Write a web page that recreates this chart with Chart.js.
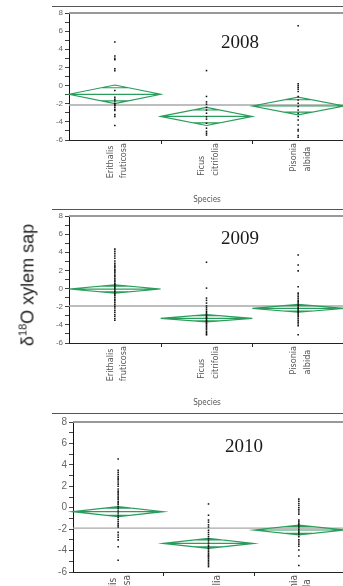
<!DOCTYPE html>
<html>
<head>
<meta charset="utf-8">
<script src="https://cdn.jsdelivr.net/npm/chart.js@4.4.1/dist/chart.umd.min.js"></script>
<style>
    html, body { margin: 0; padding: 0; background: #fff; overflow: hidden; width: 343px; height: 586px; }
    .panel { position: absolute; left: 0; width: 348px; }
    #ytitle {
        position: absolute; left: 28px; top: 285px;
        transform: translate(-50%, -50%) rotate(-90deg);
        font: 18px 'Liberation Sans', Arial, sans-serif; color: #222; white-space: nowrap;
    }
    #ytitle sup { font-size: 11px; vertical-align: 7px; line-height: 0; }
</style>
</head>
<body>
<div class="panel" style="top:0;height:205px;"><canvas id="p2008"></canvas></div>
<div class="panel" style="top:205px;height:205px;"><canvas id="p2009"></canvas></div>
<div class="panel" style="top:410px;height:176px;"><canvas id="p2010"></canvas></div>
<div id="ytitle">&delta;<sup>18</sup>O xylem sap</div>

<script>
// ===== delta18O xylem sap by species, 2008-2010 =====

var species = [['Erithalis', 'fruticosa'], ['Ficus', 'citrifolia'], ['Pisonia', 'albida']];
var xTitle = 'Species';
var yMin = -6, yMax = 8;

// -- 2008 --
var ery2008 = [4.8, 3.25, 3.0, 2.85, 1.85, 1.65, -0.55, -1.3, -1.5, -1.7, -1.95, -2.1, -2.2, -2.4, -2.6, -2.75, -3.2, -3.4, -4.4];
var fic2008 = [1.65, -1.2, -1.8, -2.05, -2.4, -2.7, -3.05, -3.45, -3.7, -4.15, -4.7, -5.05, -5.25, -5.45];
var pis2008 = [6.6, 0.2, 0.0, -0.2, -0.4, -0.65, -1.2, -1.6, -1.95, -2.3, -2.7, -3.05, -3.4, -3.8, -4.35, -4.85, -5.0, -5.5, -5.7];
var means2008 = [-0.96, -3.4, -2.25];
var ci2008 = [1.02, 1.0, 0.97];
var grand2008 = -2.14;

// -- 2009 --
var ery2009 = [4.35, 4.1, 3.85, 3.6, 3.35, 3.05, 2.8, 2.6, 2.45, 2.3, 2.1, 1.95, 1.8, 1.6, 1.45, 1.3, 1.1, 0.95, 0.8, 0.6, 0.45,
               0.3, 0.15, 0.0, -0.15, -0.3, -0.5, -0.65, -0.8, -1.0, -1.2, -1.35, -1.55, -1.75, -1.95, -2.15, -2.4, -2.6, -2.85, -3.05, -3.3, -3.5];
var fic2009 = [2.9, 0.05, -1.05, -1.3, -1.6, -1.9, -2.1, -2.3, -2.5, -2.65, -2.8, -2.95, -3.1, -3.2, -3.3, -3.45, -3.55, -3.65,
               -3.8, -3.9, -4.05, -4.2, -4.35, -4.5, -4.7, -4.85, -5.0, -5.1];
var pis2009 = [3.7, 2.6, 1.95, 0.2, -0.5, -0.7, -0.9, -1.1, -1.3, -1.45, -1.6, -1.75, -1.9, -2.05, -2.2, -2.35, -2.5, -2.65, -2.8,
               -2.95, -3.1, -3.3, -3.5, -3.7, -3.9, -4.1, -5.1];
var means2009 = [-0.05, -3.28, -2.18];
var ci2009 = [0.45, 0.4, 0.43];
var grand2009 = -1.92;

// -- 2010 --
var ery2010 = [4.55, 3.5, 3.3, 3.1, 2.9, 2.75, 2.6, 2.4, 2.2, 2.0, 1.75, 1.55, 1.4, 1.25, 1.1, 0.95, 0.8, 0.6, 0.45, 0.3, 0.1,
               -0.1, -0.3, -0.5, -0.7, -0.9, -1.1, -1.3, -1.5, -1.65, -1.8, -2.3, -2.55, -2.75, -3.0, -3.65, -4.9];
var fic2010 = [0.35, -0.7, -1.15, -1.35, -1.6, -1.8, -2.1, -2.3, -2.5, -2.7, -2.9, -3.1, -3.3, -3.5, -3.65, -3.8, -3.95, -4.1,
               -4.25, -4.4, -4.5, -4.6, -4.75, -4.9, -5.05, -5.2, -5.35, -5.5];
var pis2010 = [0.8, 0.6, 0.4, 0.2, 0.0, -0.2, -0.4, -0.6, -1.15, -1.3, -1.45, -1.6, -1.75, -1.9, -2.05, -2.2, -2.35, -2.5, -2.7,
               -3.0, -3.2, -3.4, -3.6, -3.95, -4.5, -5.4];
var means2010 = [-0.37, -3.33, -2.08];
var ci2010 = [0.47, 0.46, 0.45];
var grand2010 = -1.9;

var GREEN = '#2a9d5c';
var SANS = "'Liberation Sans Narrow', 'DejaVu Sans Condensed', 'Liberation Sans', sans-serif";

// draws the JMP-style frame, means diamonds, labels
var decorPlugin = {
    id: 'decor',
    beforeDatasetsDraw: function(chart, args, o) {
        var ctx = chart.ctx, a = chart.chartArea;
        var xs = chart.scales.x, ys = chart.scales.y;
        ctx.save();
        // grand mean
        ctx.strokeStyle = '#a8a8a8'; ctx.lineWidth = 1.3;
        ctx.beginPath();
        ctx.moveTo(a.left, ys.getPixelForValue(o.grand));
        ctx.lineTo(a.right, ys.getPixelForValue(o.grand));
        ctx.stroke();
        // diamonds
        ctx.strokeStyle = GREEN; ctx.lineWidth = 1.2;
        for (var i = 0; i < o.means.length; i++) {
            var xl = xs.getPixelForValue(i), xr = xs.getPixelForValue(i + 1), xc = (xl + xr) / 2;
            var ym = ys.getPixelForValue(o.means[i]);
            var yt = ys.getPixelForValue(o.means[i] + o.ci[i]);
            var yb = ys.getPixelForValue(o.means[i] - o.ci[i]);
            ctx.beginPath();
            ctx.moveTo(xl, ym); ctx.lineTo(xc, yt); ctx.lineTo(xr, ym); ctx.lineTo(xc, yb); ctx.closePath();
            ctx.moveTo(xl, ym); ctx.lineTo(xr, ym);
            // overlap marks
            var k = 1 / Math.SQRT2, hw = (xr - xl) / 2 * (1 - k);
            var yo1 = ys.getPixelForValue(o.means[i] + o.ci[i] * k);
            var yo2 = ys.getPixelForValue(o.means[i] - o.ci[i] * k);
            ctx.moveTo(xc - hw, yo1); ctx.lineTo(xc + hw, yo1);
            ctx.moveTo(xc - hw, yo2); ctx.lineTo(xc + hw, yo2);
            ctx.stroke();
        }
        ctx.restore();
    },
    afterDraw: function(chart, args, o) {
        var ctx = chart.ctx, a = chart.chartArea, xs = chart.scales.x;
        ctx.save();
        // top frame lines
        ctx.strokeStyle = '#555'; ctx.lineWidth = 1;
        ctx.beginPath(); ctx.moveTo(52, a.top - o.gap + 0.5); ctx.lineTo(chart.width, a.top - o.gap + 0.5); ctx.stroke();
        ctx.strokeStyle = '#999'; ctx.lineWidth = 2;
        ctx.beginPath(); ctx.moveTo(a.left, a.top); ctx.lineTo(a.right, a.top); ctx.stroke();
        // bottom axis + group ticks
        ctx.strokeStyle = '#222'; ctx.lineWidth = 1;
        ctx.beginPath(); ctx.moveTo(a.left, a.bottom + 0.5); ctx.lineTo(a.right, a.bottom + 0.5);
        for (var b = 1; b < species.length; b++) {
            var bx = Math.round(xs.getPixelForValue(b)) + 0.5;
            ctx.moveTo(bx, a.bottom); ctx.lineTo(bx, a.bottom + 4);
        }
        ctx.stroke();
        // category labels, rotated, lines left-aligned under the longest one
        ctx.fillStyle = '#555'; ctx.font = o.catSize + 'px ' + SANS; ctx.textBaseline = 'middle'; ctx.textAlign = 'left';
        for (var i = 0; i < species.length; i++) {
            var xc = xs.getPixelForValue(i + 0.5);
            var w = 0;
            for (var j = 0; j < species[i].length; j++) w = Math.max(w, ctx.measureText(species[i][j]).width);
            for (var j2 = 0; j2 < species[i].length; j2++) {
                ctx.save();
                ctx.translate(xc + (j2 === 0 ? -4.5 : 9), a.bottom + 3 + w);
                ctx.rotate(-Math.PI / 2);
                ctx.fillText(species[i][j2], 0, 0);
                ctx.restore();
            }
        }
        // axis title
        ctx.font = '8px ' + SANS; ctx.textAlign = 'center';
        ctx.fillText(xTitle, 207, a.bottom + 60);
        // year
        ctx.fillStyle = '#1a1a1a'; ctx.font = "19px 'Liberation Serif', 'Times New Roman', serif";
        ctx.fillText(o.year, a.left + 171, a.top + o.yearDy);
        ctx.restore();
    }
};

function makePanel(id, year, ery, fic, pis, means, ci, grand, lay) {
    var groups = [ery, fic, pis];
    var pts = [];
    for (var g = 0; g < groups.length; g++) {
        for (var i = 0; i < groups[g].length; i++) pts.push({ x: g + 0.5, y: groups[g][i] });
    }
    return new Chart(document.getElementById(id), {
        type: 'scatter',
        data: { datasets: [{ data: pts, pointStyle: 'rect', pointRadius: 1.1, backgroundColor: '#111', borderWidth: 0 }] },
        options: {
            responsive: true, maintainAspectRatio: false, animation: false,
            layout: { padding: { top: lay.top, bottom: lay.bottom, left: 0, right: 0 } },
            plugins: {
                legend: { display: false }, tooltip: { enabled: false },
                decor: { year: year, means: means, ci: ci, grand: grand, gap: lay.gap, yearDy: lay.yearDy, catSize: lay.catSize }
            },
            scales: {
                x: { type: 'linear', min: 0, max: species.length, display: false },
                y: {
                    min: yMin, max: yMax,
                    afterFit: function(s) { s.width = lay.axisX; },
                    grid: { drawOnChartArea: false, tickLength: 4, color: '#444' },
                    border: { color: '#111', width: 1 },
                    ticks: {
                        stepSize: 1, padding: 2, color: '#666', autoSkip: false,
                        font: { family: 'Liberation Sans', size: lay.tickSize },
                        callback: function(v) { return v % 2 === 0 ? String(v) : ''; }
                    }
                }
            }
        },
        plugins: [decorPlugin]
    });
}

makePanel('p2008', '2008', ery2008, fic2008, pis2008, means2008, ci2008, grand2008,
    { top: 13, bottom: 65, axisX: 69, gap: 7, yearDy: 30, catSize: 9, tickSize: 8 });
makePanel('p2009', '2009', ery2009, fic2009, pis2009, means2009, ci2009, grand2009,
    { top: 11, bottom: 67, axisX: 69, gap: 7, yearDy: 23, catSize: 9, tickSize: 8 });
makePanel('p2010', '2010', ery2010, fic2010, pis2010, means2010, ci2010, grand2010,
    { top: 12, bottom: 14, axisX: 73, gap: 9, yearDy: 25, catSize: 10, tickSize: 10 });
</script>
</body>
</html>
